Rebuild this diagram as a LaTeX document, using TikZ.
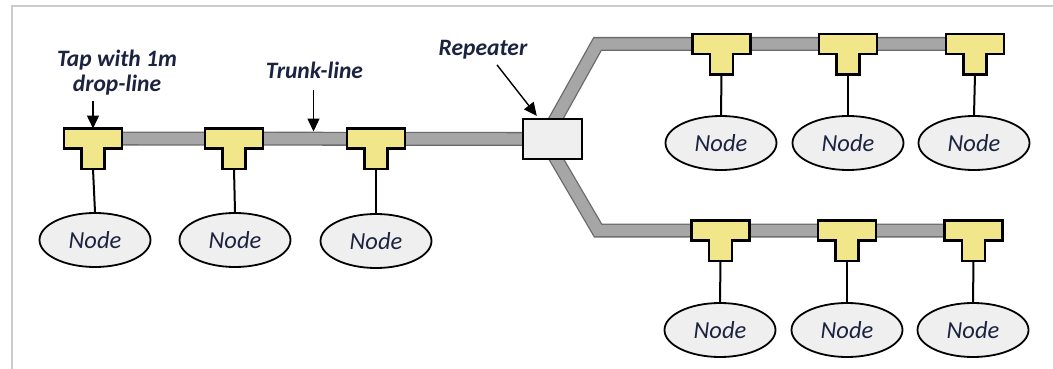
\documentclass[tikz,border=0pt]{standalone}
\usepackage{fontspec}
\setmainfont{Carlito}
\usetikzlibrary{shapes.geometric,arrows.meta,backgrounds,calc}

\definecolor{tapfill}{HTML}{F2E68A}
\definecolor{trunkfill}{HTML}{A6A6A6}
\definecolor{trunkedge}{HTML}{6A6A6A}
\definecolor{bubble}{HTML}{EFEFEF}
\definecolor{framegray}{HTML}{CCCCCC}
\definecolor{ink}{HTML}{1C2340}

\tikzset{
  % T-shaped tap: bar centred on the trunk, stem pointing down
  pics/tap/.style={code={
    \draw[fill=tapfill, line width=2.4pt, line join=miter]
      (-29,-10) -- (29,-10) -- (29,10) -- (11.5,10) -- (11.5,30.5)
      -- (-11.5,30.5) -- (-11.5,10) -- (-29,10) -- cycle;
    \coordinate (-mid) at (0,0);
    \coordinate (-top) at (0,-10);
    \coordinate (-foot) at (0,30.5);
  }},
  station/.style={ellipse, draw, fill=bubble, line width=1.8pt,
    minimum width=111pt, minimum height=54pt, inner sep=0pt,
    font=\fontsize{24.5}{26}\selectfont\itshape, text=ink},
  repeaterbox/.style={rectangle, draw, fill=bubble, line width=2.4pt,
    minimum width=59pt, minimum height=40pt, inner sep=0pt},
  trunk/.style={draw=trunkedge, line width=1.3pt, double=trunkfill,
    double distance=11.4pt, line join=miter},
  droplink/.style={line width=2pt},
  callout/.style={line width=1.4pt, -{Triangle[length=13pt,width=12pt]}},
  notetext/.style={font=\fontsize{23.5}{25}\selectfont\bfseries\itshape,
    align=center, text=ink, inner sep=0pt},
}

\begin{document}
\begin{tikzpicture}[x=1pt,y=-1pt]
  \useasboundingbox (0,0) rectangle (1053,369);

  % frame
  \draw[framegray, line width=2pt] (12,369) -- (12,6) -- (1053,6);

  % repeater
  \node[repeaterbox] (rep) at (552.5,139) {};

  % taps on the left trunk
  \pic (t1) at (93,138.5) {tap};
  \pic (t2) at (234,138.5) {tap};
  \pic (t3) at (376,138.5) {tap};
  % taps on the upper branch
  \pic (t4) at (721.5,44) {tap};
  \pic (t5) at (848,44) {tap};
  \pic (t6) at (975,44) {tap};
  % taps on the lower branch
  \pic (t7) at (720.5,230.5) {tap};
  \pic (t8) at (847,230.5) {tap};
  \pic (t9) at (973.5,230.5) {tap};

  % stations
  \node[station] (n1) at (95,240) {Node};
  \node[station] (n2) at (235,240) {Node};
  \node[station] (n3) at (376,241) {Node};
  \node[station] (n4) at (721,143) {Node};
  \node[station] (n5) at (848,143) {Node};
  \node[station] (n6) at (974,143) {Node};
  \node[station] (n7) at (720,330) {Node};
  \node[station] (n8) at (847,330) {Node};
  \node[station] (n9) at (973,330) {Node};

  % drop-lines
  \foreach \i in {1,...,9} {
    \draw[droplink] (t\i-foot) -- (n\i.north);
  }

  % trunk-lines behind taps and repeater
  \coordinate (fork) at ($(rep.center)+(-8,0)$);
  \coordinate (bendup) at (597.5,44);
  \coordinate (benddown) at (598,230.5);
  \begin{scope}[on background layer]
    \draw[trunk] (t1-mid) -- (rep.center);
    \draw[trunk] (fork) -- (bendup) -- (t6-mid);
    \draw[trunk] (fork) -- (benddown) -- (t9-mid);
  \end{scope}

  % callouts (base of a two-line note is its last line)
  \node[notetext, anchor=base] (lbltap) at (117,92) {Tap with 1m\\drop-line};
  \coordinate (tapfrom) at (93,101);
  \draw[callout] (tapfrom) -- (t1-top);

  \node[notetext, anchor=base] (lbltrunk) at (314.5,79) {Trunk-line};
  \coordinate (trunkfrom) at (313.5,90);
  \coordinate (trunkmark) at (313.5,131.5);
  \draw[callout] (trunkfrom) -- (trunkmark);

  \node[notetext, anchor=base] (lblrep) at (483,56) {Repeater};
  \draw[callout] ($(lblrep.south)+(14,5)$) -- ($(rep.north west)+(15,-2)$);
\end{tikzpicture}
\end{document}
